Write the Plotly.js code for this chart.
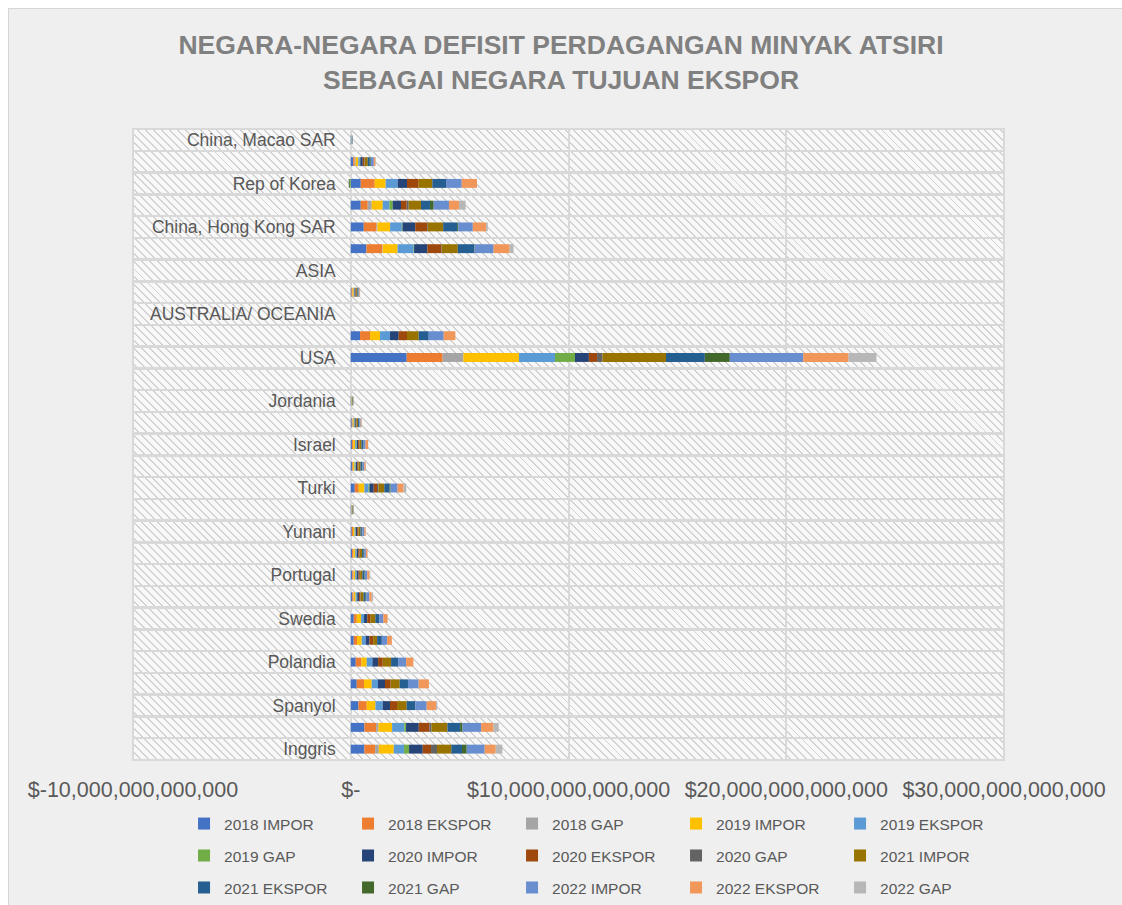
<!DOCTYPE html>
<html><head><meta charset="utf-8">
<script src="https://cdn.plot.ly/plotly-3.0.1.min.js"></script>
<style>
html,body{margin:0;padding:0;background:#fff;overflow:hidden;}
#bg{position:absolute;left:8px;top:8px;width:1114px;height:897px;background:#efefef;border-left:1px solid #d6d6d6;border-top:1px solid #d6d6d6;}
#hatch{position:absolute;left:133px;top:129px;width:871px;height:631px;background:repeating-linear-gradient(45deg,#d2d2d2 0px,#d2d2d2 1.4px,#f8f8f8 1.4px,#f8f8f8 5.6px);}
#chart{position:absolute;left:0;top:0;width:1122px;height:905px;}
</style></head>
<body><div id="bg"></div><div id="hatch"></div><div id="chart"></div>
<script>
// categories, bottom to top
const categories = ['Inggris','Jerman','Spanyol','Perancis','Polandia','Austria','Swedia','Denmark','Portugal','Italia','Yunani','Siprus','Turki','Uni Emirat Arab','Israel','Arab Saudi','Jordania','AMERIKA','USA','Kanada','AUSTRALIA/ OCEANIA','Selandia Baru','ASIA','Jepang','China, Hong Kong SAR','Singapura','Rep of Korea','Taiwan','China, Macao SAR'];
const shownLabels = ['Inggris','Spanyol','Polandia','Swedia','Portugal','Yunani','Turki','Israel','Jordania','USA','AUSTRALIA/ OCEANIA','ASIA','China, Hong Kong SAR','Rep of Korea','China, Macao SAR'];

const IMPOR_2018  = [628e9,628e9,353e9,275e9,229e9,138e9,138e9,69e9,69e9,60e9,46e9,18e9,184e9,55e9,55e9,46e9,14e9,0,2569e9,427e9,0,37e9,0,720e9,596e9,459e9,459e9,115e9,23e9];
const EKSPOR_2018 = [491e9,537e9,381e9,335e9,261e9,151e9,138e9,55e9,46e9,60e9,60e9,5e9,184e9,37e9,46e9,32e9,5e9,0,1651e9,459e9,0,46e9,0,720e9,583e9,321e9,642e9,69e9,0];
const GAP_2018    = [170e9,106e9,0,0,0,0,0,14e9,18e9,9e9,0,9e9,0,14e9,9e9,14e9,9e9,0,950e9,0,0,0,0,23e9,46e9,184e9,0,46e9,0];
const IMPOR_2019  = [688e9,628e9,399e9,353e9,243e9,216e9,197e9,83e9,69e9,78e9,69e9,14e9,261e9,69e9,92e9,46e9,14e9,0,2555e9,459e9,0,55e9,0,688e9,583e9,505e9,505e9,115e9,14e9];
const EKSPOR_2019 = [472e9,564e9,335e9,289e9,261e9,183e9,138e9,60e9,60e9,55e9,46e9,9e9,183e9,46e9,55e9,32e9,5e9,0,1656e9,459e9,0,37e9,0,734e9,537e9,307e9,550e9,69e9,23e9];
const GAP_2019    = [229e9,78e9,0,0,0,0,0,18e9,14e9,14e9,14e9,5e9,46e9,18e9,23e9,14e9,9e9,0,917e9,0,0,0,0,23e9,32e9,151e9,-46e9,23e9,0];
const IMPOR_2020  = [628e9,583e9,335e9,321e9,261e9,170e9,151e9,83e9,78e9,69e9,60e9,9e9,197e9,60e9,60e9,46e9,9e9,0,638e9,399e9,0,37e9,0,610e9,583e9,381e9,427e9,115e9,9e9];
const EKSPOR_2020 = [381e9,491e9,321e9,261e9,216e9,170e9,151e9,60e9,60e9,60e9,46e9,5e9,151e9,46e9,46e9,32e9,5e9,0,376e9,381e9,0,23e9,0,642e9,550e9,261e9,537e9,69e9,0];
const GAP_2020    = [275e9,92e9,0,0,0,0,0,18e9,18e9,14e9,14e9,9e9,60e9,14e9,14e9,14e9,5e9,0,248e9,0,0,14e9,0,23e9,32e9,92e9,0,23e9,0];
const IMPOR_2021  = [656e9,734e9,445e9,413e9,381e9,183e9,216e9,128e9,106e9,101e9,92e9,18e9,275e9,92e9,92e9,60e9,18e9,0,2917e9,537e9,0,55e9,0,734e9,702e9,564e9,628e9,138e9,14e9];
const EKSPOR_2021 = [491e9,583e9,399e9,381e9,321e9,216e9,183e9,92e9,78e9,69e9,60e9,9e9,243e9,64e9,83e9,41e9,9e9,0,1784e9,459e9,0,37e9,0,748e9,642e9,413e9,628e9,92e9,0];
const GAP_2021    = [216e9,106e9,0,0,0,0,0,32e9,28e9,23e9,23e9,9e9,46e9,23e9,14e9,18e9,9e9,0,1147e9,0,0,14e9,0,23e9,46e9,170e9,-46e9,46e9,0];
const IMPOR_2022  = [826e9,858e9,518e9,491e9,367e9,243e9,183e9,138e9,115e9,83e9,92e9,14e9,321e9,83e9,92e9,60e9,14e9,0,3371e9,688e9,0,46e9,0,872e9,674e9,702e9,720e9,138e9,18e9];
const EKSPOR_2022 = [505e9,564e9,427e9,472e9,335e9,216e9,197e9,115e9,101e9,73e9,60e9,5e9,275e9,64e9,115e9,41e9,5e9,0,2083e9,537e9,0,28e9,0,734e9,610e9,459e9,702e9,69e9,0];
const GAP_2022    = [307e9,243e9,60e9,0,0,0,0,60e9,37e9,14e9,14e9,9e9,124e9,18e9,9e9,18e9,9e9,0,1280e9,0,0,0,0,183e9,78e9,307e9,0,23e9,0];

const seriesNames = ['2018 IMPOR','2018 EKSPOR','2018 GAP','2019 IMPOR','2019 EKSPOR','2019 GAP','2020 IMPOR','2020 EKSPOR','2020 GAP','2021 IMPOR','2021 EKSPOR','2021 GAP','2022 IMPOR','2022 EKSPOR','2022 GAP'];
const seriesValues = [IMPOR_2018,EKSPOR_2018,GAP_2018,IMPOR_2019,EKSPOR_2019,GAP_2019,IMPOR_2020,EKSPOR_2020,GAP_2020,IMPOR_2021,EKSPOR_2021,GAP_2021,IMPOR_2022,EKSPOR_2022,GAP_2022];
const seriesColors = ['#4472C4','#ED7D31','#A5A5A5','#FFC000','#5B9BD5','#70AD47','#264478','#9E480E','#636363','#997300','#255E91','#43682B','#698ED0','#F1975A','#B7B7B7'];

const xTickVals = [-10e12, 0, 10e12, 20e12, 30e12];
const xTickText = ['$-10,000,000,000,000','$-','$10,000,000,000,000','$20,000,000,000,000','$30,000,000,000,000'];

const FONT = "'Liberation Sans',Arial,sans-serif";
const legendIds = ['legend','legend2','legend3'];

const traces = seriesNames.map((n,i)=>({
  type:'bar', orientation:'h', name:n, x:seriesValues[i], y:categories,
  marker:{color:seriesColors[i], line:{width:0}},
  legend: legendIds[Math.floor(i/5)],
  hoverinfo:'name+x'
}));

function legendAt(yPaper){
  return {orientation:'h', x:0.0586, xanchor:'left', y:yPaper, yanchor:'middle',
    bgcolor:'rgba(0,0,0,0)', entrywidth:119, entrywidthmode:'pixels',
    font:{family:FONT, size:15.5, color:'#595959'}, traceorder:'normal'};
}

const layout = {
  width:1122, height:905,
  margin:{l:133, r:118, t:129, b:145, autoexpand:false},
  paper_bgcolor:'rgba(0,0,0,0)', plot_bgcolor:'rgba(0,0,0,0)',
  barmode:'relative', bargap:0.59,
  title:{text:'NEGARA-NEGARA DEFISIT PERDAGANGAN MINYAK ATSIRI<br>SEBAGAI NEGARA TUJUAN EKSPOR',
    x:0.5, xanchor:'center', y:0.94, yanchor:'middle',
    font:{family:FONT, size:26.5, color:'#808080', weight:'bold'}},
  xaxis:{range:[-10e12,30e12], tickmode:'array', tickvals:xTickVals, ticktext:xTickText,
    showgrid:true, gridcolor:'#d9d9d9', gridwidth:2,
    zeroline:true, zerolinecolor:'#d9d9d9', zerolinewidth:2,
    showline:false, ticks:'', ticklabelstandoff:14, tickangle:0, automargin:false,
    tickfont:{family:FONT, size:21.5, color:'#595959'}, fixedrange:true},
  yaxis:{type:'category', anchor:'free', position:0.25, tickmode:'array',
    tickvals:categories, ticktext:categories.map(c=>shownLabels.includes(c)?c:''),
    tickson:'boundaries', ticks:'', showgrid:true, gridcolor:'#d9d9d9', gridwidth:2.5,
    showline:false, zeroline:false, ticklabelstandoff:15, automargin:false,
    tickfont:{family:FONT, size:17.5, color:'#595959'}, fixedrange:true},
  legend: legendAt(-0.1014),
  legend2: legendAt(-0.152),
  legend3: legendAt(-0.2027),
  shapes:[{type:'rect', xref:'paper', yref:'paper', x0:0, x1:1, y0:0, y1:1,
    line:{color:'#d9d9d9', width:2}, layer:'below'}],
  showlegend:true
};

Plotly.newPlot('chart', traces, layout, {displayModeBar:false, staticPlot:true});
</script>
</body></html>
